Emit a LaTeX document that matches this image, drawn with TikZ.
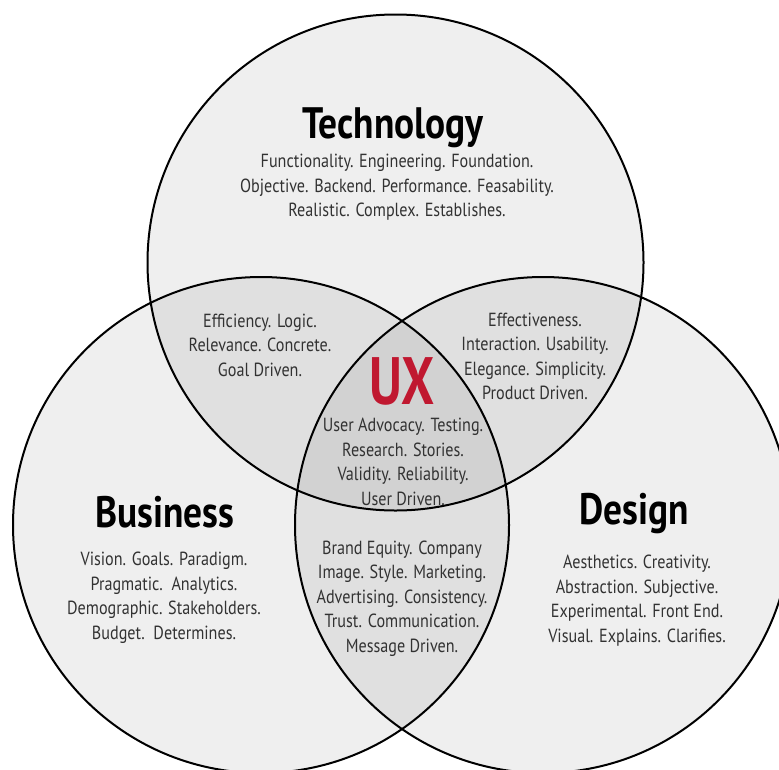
\documentclass[tikz,border=0pt]{standalone}
\usepackage{fontspec}
\setmainfont{PT Sans}[FakeStretch=0.85]
\newfontfamily\uxfont{PT Sans}[FakeStretch=0.78]
\usepackage{tikz}
\definecolor{uxred}{RGB}{192,24,48}
\definecolor{wordgray}{RGB}{50,50,50}

\begin{document}
\begin{tikzpicture}
			[
				x = 1pt, y = -1pt,
				mycircle/.style = {draw, circle, line width = 2pt, fill = black, fill opacity = 0.063, draw opacity = 1, inner sep = 0pt, minimum size = 496pt},
				mytitle/.style = {anchor = base, inner sep = 0pt, font = \fontsize{44}{44}\selectfont\bfseries},
				mytext/.style = {align = center, inner sep = 0pt, text = wordgray, font = \fontsize{19}{24.5}\selectfont}
			]
			%
			\useasboundingbox (0,0) rectangle (779,769);
			\clip (0,0) rectangle (779,769);
			%
			\node (tech) [mycircle] at (395.5,262.5) {};
			\node (business) [mycircle] at (261,525) {};
			\node (design) [mycircle] at (543,525) {};
			%
			\node (techtitle) [mytitle] at (393,138) {Technology};
			\node (techtext) [mytext] at (397,187.5) {Functionality. Engineering. Foundation.\\Objective. Backend. Performance. Feasability.\\Realistic. Complex. Establishes.};
			%
			\node (bustitle) [mytitle] at (165,527) {Business};
			\node (bustext) [mytext] at (164,597.5) {Vision. Goals. Paradigm.\\Pragmatic.\ \ Analytics.\\Demographic. Stakeholders.\\Budget.\ \ Determines.};
			%
			\node (destitle) [mytitle] at (634,524) {Design};
			\node (destext) [mytext] at (637,600.5) {Aesthetics. Creativity.\\Abstraction. Subjective.\\Experimental. Front End.\\Visual. Explains. Clarifies.};
			%
			\node (techbus) [mytext] at (260,345) {Efficiency. Logic.\\Relevance. Concrete.\\Goal Driven.};
			\node (techdes) [mytext] at (535,356.5) {Effectiveness.\\Interaction. Usability.\\Elegance. Simplicity.\\Product Driven.};
			\node (busdes) [mytext] at (402,598.5) {Brand Equity. Company\\Image. Style. Marketing.\\Advertising. Consistency.\\Trust. Communication.\\Message Driven.};
			%
			\node (ux) [mytitle, text = uxred, font = \fontsize{67}{67}\selectfont\uxfont\bfseries] at (402,404) {UX};
			\node (uxtext) [mytext] at (403,462) {User Advocacy. Testing.\\Research. Stories.\\Validity. Reliability.\\User Driven.};
			%
		\end{tikzpicture}
\end{document}
